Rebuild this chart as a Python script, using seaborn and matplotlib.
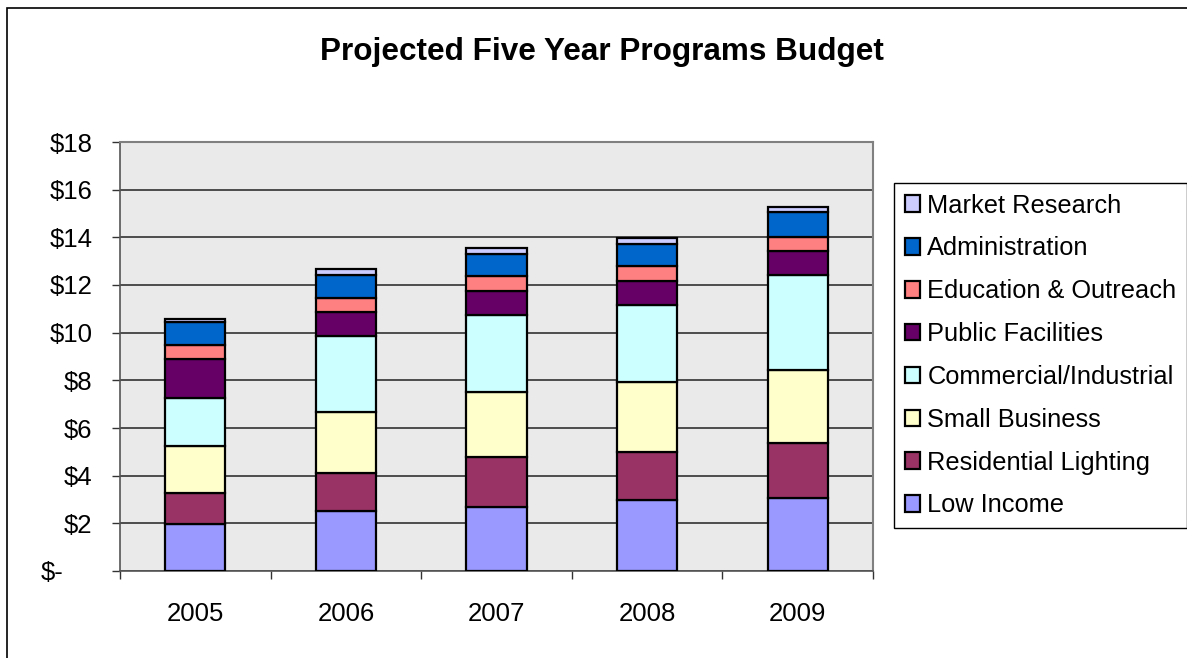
import matplotlib
matplotlib.use('Agg')
import matplotlib.pyplot as plt
import matplotlib.transforms as mtransforms
from matplotlib.patches import Patch, Rectangle
import numpy as np
import pandas as pd
import seaborn as sns

years = ['2005', '2006', '2007', '2008', '2009']
low_income = [1.96, 2.52, 2.68, 2.96, 3.06]
residential_lighting = [1.30, 1.61, 2.11, 2.03, 2.32]
small_business = [1.98, 2.54, 2.72, 2.93, 3.05]
commercial_industrial = [2.03, 3.19, 3.24, 3.26, 3.97]
public_facilities = [1.63, 1.01, 0.98, 0.98, 1.01]
education_outreach = [0.60, 0.60, 0.63, 0.63, 0.61]
administration = [0.94, 0.95, 0.94, 0.94, 1.05]
market_research = [0.15, 0.27, 0.27, 0.24, 0.21]

series = ['Low Income', 'Residential Lighting', 'Small Business', 'Commercial/Industrial',
          'Public Facilities', 'Education & Outreach', 'Administration', 'Market Research']
colors = ['#9999FF', '#993366', '#FFFFCC', '#CCFFFF',
          '#660066', '#FF8080', '#0066CC', '#CCCCFF']
ytick_labels = ['$-', '$2', '$4', '$6', '$8', '$10', '$12', '$14', '$16', '$18']

df = pd.DataFrame({
    'year': years,
    'Low Income': low_income,
    'Residential Lighting': residential_lighting,
    'Small Business': small_business,
    'Commercial/Industrial': commercial_industrial,
    'Public Facilities': public_facilities,
    'Education & Outreach': education_outreach,
    'Administration': administration,
    'Market Research': market_research,
})

sns.set_theme(style='white')
plt.rcParams['font.family'] = ['Liberation Sans', 'DejaVu Sans']
plt.rcParams['text.color'] = 'black'
plt.rcParams['xtick.labelcolor'] = 'black'
plt.rcParams['ytick.labelcolor'] = 'black'

fig = plt.figure(figsize=(11.87, 6.58), dpi=100)
ax = fig.add_axes([120 / 1187, 1 - 571 / 658, (873 - 120) / 1187, (571 - 142) / 658])
ax.set_facecolor('#EAEAEA')

bottom = np.zeros(len(years))
for name, col in zip(series, colors):
    sns.barplot(data=df, x='year', y=name, bottom=bottom, color=col, width=0.4,
                edgecolor='black', linewidth=1.6, saturation=1, ax=ax, zorder=3)
    bottom = bottom + df[name].values

ax.set_ylim(0, 18)
ax.set_xlim(-0.5, 4.5)
ax.set_yticks(np.arange(0, 19, 2))
ax.set_yticklabels(ytick_labels, fontsize=18.5)
ax.yaxis.grid(True, color='#222222', linewidth=1.1, zorder=0)
ax.set_axisbelow(True)
ax.set_xlabel('')
ax.set_ylabel('')

# x ticks sit between categories, labels under bars
ax.set_xticks(np.arange(-0.5, 5, 1))
ax.set_xticklabels([])
ax.set_xticks(np.arange(5), minor=True)
ax.set_xticklabels(years, minor=True, fontsize=18.5)
ax.tick_params(axis='x', which='major', direction='out', length=6, width=1, color='#333333', bottom=True)
ax.tick_params(axis='x', which='minor', length=0, pad=22)
ax.tick_params(axis='y', direction='out', length=6, width=1, color='#333333', pad=14, left=True)

for side in ['top', 'right']:
    ax.spines[side].set_color('#808080')
    ax.spines[side].set_linewidth(1.5)
for side in ['left', 'bottom']:
    ax.spines[side].set_color('#555555')
    ax.spines[side].set_linewidth(1.2)

# accounting style "$-" sits further left
lab0 = ax.get_yticklabels()[0]
lab0.set_transform(lab0.get_transform() + mtransforms.ScaledTranslation(-0.29, 0, fig.dpi_scale_trans))

fig.text(602 / 1187, 1 - 52 / 658, 'Projected Five Year Programs Budget',
         fontsize=22.7, fontweight='bold', ha='center', va='center')

handles = [Patch(facecolor=c, edgecolor='black', linewidth=1.6) for c in colors]
leg = fig.legend(handles[::-1], series[::-1], loc='upper left',
                 bbox_to_anchor=(894 / 1187, 1 - 183 / 658), fontsize=18.3,
                 frameon=True, fancybox=False, edgecolor='black', framealpha=1,
                 handlelength=0.62, handleheight=0.62, handletextpad=0.27,
                 borderpad=0.42, labelspacing=0.74, borderaxespad=0)
leg.get_frame().set_linewidth(1.0)

fig.patches.append(Rectangle((7 / 1187, -0.1), 1.2, 1.1 - 8 / 658, transform=fig.transFigure,
                             fill=False, edgecolor='black', linewidth=1.2))

fig.savefig('out.png', dpi=100)
